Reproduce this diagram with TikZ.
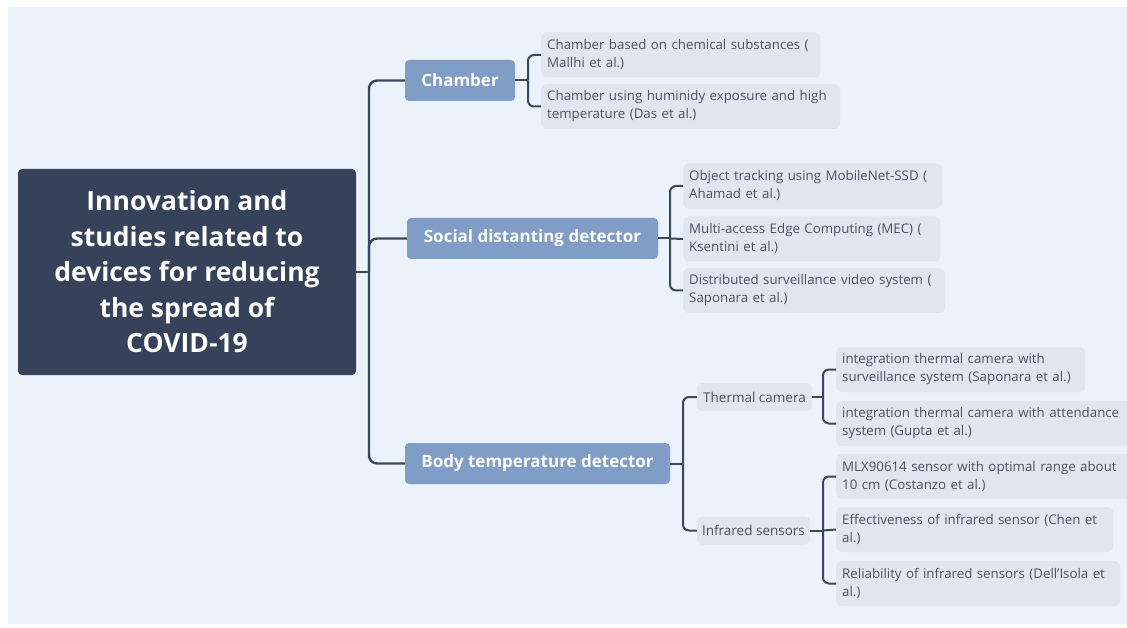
\documentclass[tikz,border=0pt]{standalone}
\usepackage{fontspec}
\setmainfont{Open Sans}
\definecolor{bg}{HTML}{EBF2FA}
\definecolor{rootc}{HTML}{354259}
\definecolor{mainc}{HTML}{7F9DC7}
\definecolor{leafc}{HTML}{E0E6EE}
\definecolor{leaftext}{HTML}{4A5262}
\definecolor{linec}{HTML}{3C475A}
\tikzset{
  rootbox/.style={fill=rootc, rounded corners=4, text=white, align=center,
    font=\fontsize{26.5}{35.5}\selectfont\bfseries, minimum width=338pt, minimum height=206pt, inner sep=0pt},
  mainbox/.style={fill=mainc, rounded corners=4, text=white,
    font=\fontsize{17}{20}\selectfont\bfseries, minimum height=41pt, inner sep=0pt},
  subbox/.style={fill=leafc, rounded corners=5, text=leaftext,
    font=\fontsize{13.5}{18}\selectfont, minimum height=28pt, inner sep=0pt},
  leafbox/.style={fill=leafc, rounded corners=6, text=leaftext, align=left, anchor=west,
    font=\fontsize{13.3}{18}\selectfont, minimum height=45pt, inner xsep=6pt, inner ysep=0pt, text width=#1},
  conn/.style={draw=linec, line width=2.4pt, rounded corners=8},
  subconn/.style={draw=linec, line width=2pt, rounded corners=6},
}
\begin{document}
\begin{tikzpicture}[x=1pt,y=-1pt]
\useasboundingbox (0,0) rectangle (1127,628);
\clip (0,0) rectangle (1127,628);
\fill[white] (0,0) rectangle (1127,628);
\fill[bg] (8,7) rectangle (1127,624);

\node[rootbox] (root) at (187,272) {Innovation and\\studies related to\\devices for reducing\\the spread of\\COVID-19};

\node[mainbox, minimum width=110pt] (chamber) at (460,80.5) {Chamber};
\node[mainbox, minimum width=251pt] (social) at (532.5,238.5) {Social distanting detector};
\node[mainbox, minimum width=265pt] (body) at (537.5,463.5) {Body temperature detector};

\node[subbox, minimum width=115pt] (thermal) at (754.5,397) {Thermal camera};
\node[subbox, minimum width=113pt] (infra) at (753.5,530.5) {Infrared sensors};

\node[leafbox=267pt] (c1) at (541,55) {Chamber based on chemical substances (\\Mallhi et al.)};
\node[leafbox=287pt] (c2) at (541,106.5) {Chamber using huminidy exposure and high\\temperature (Das et al.)};

\node[leafbox=247pt] (s1) at (683,186) {Object tracking using MobileNet-SSD (\\Ahamad et al.)};
\node[leafbox=245pt] (s2) at (683,239) {Multi-access Edge Computing (MEC) (\\Ksentini et al.)};
\node[leafbox=250pt] (s3) at (683,290.5) {Distributed surveillance video system (\\Saponara et al.)};

\node[leafbox=237pt] (t1) at (836,369.5) {integration thermal camera with\\surveillance system (Saponara et al.)};
\node[leafbox=297pt] (t2) at (836,423.5) {integration thermal camera with attendance\\system (Gupta et al.)};

\node[leafbox=297pt] (i1) at (836,476.5) {MLX90614 sensor with optimal range about\\10 cm (Costanzo et al.)};
\node[leafbox=265pt] (i2) at (836,529.5) {Effectiveness of infrared sensor (Chen et\\al.)};
\node[leafbox=272pt] (i3) at (836,583.5) {Reliability of infrared sensors (Dell'Isola et\\al.)};

% trunk
\coordinate (trunk) at (369,272);
\draw[conn] (root.east) -- (trunk);
\draw[conn] (trunk) |- (chamber.west);
\draw[conn] (trunk) |- (social.west);
\draw[conn] (trunk) |- (body.west);

% chamber bracket
\coordinate (cb) at (528,80.5);
\draw[subconn] (chamber.east) -- (cb);
\draw[subconn] (cb) |- (c1.west);
\draw[subconn] (cb) |- (c2.west);

% social bracket
\coordinate (sb) at (670,238.5);
\draw[subconn] (social.east) -- (sb);
\draw[subconn] (sb) |- (s1.west);
\draw[subconn] (sb) -- (s2.west);
\draw[subconn] (sb) |- (s3.west);

% body bracket
\coordinate (bb) at (683,463.5);
\draw[subconn] (body.east) -- (bb);
\draw[subconn] (bb) |- (thermal.west);
\draw[subconn] (bb) |- (infra.west);

% thermal bracket
\coordinate (tb) at (823,397);
\draw[subconn] (thermal.east) -- (tb);
\draw[subconn] (tb) |- (t1.west);
\draw[subconn] (tb) |- (t2.west);

% infrared bracket
\coordinate (ib) at (823,530.5);
\draw[subconn] (infra.east) -- (ib);
\draw[subconn] (ib) |- (i1.west);
\draw[subconn] (ib) -- (i2.west);
\draw[subconn] (ib) |- (i3.west);
\end{tikzpicture}
\end{document}
